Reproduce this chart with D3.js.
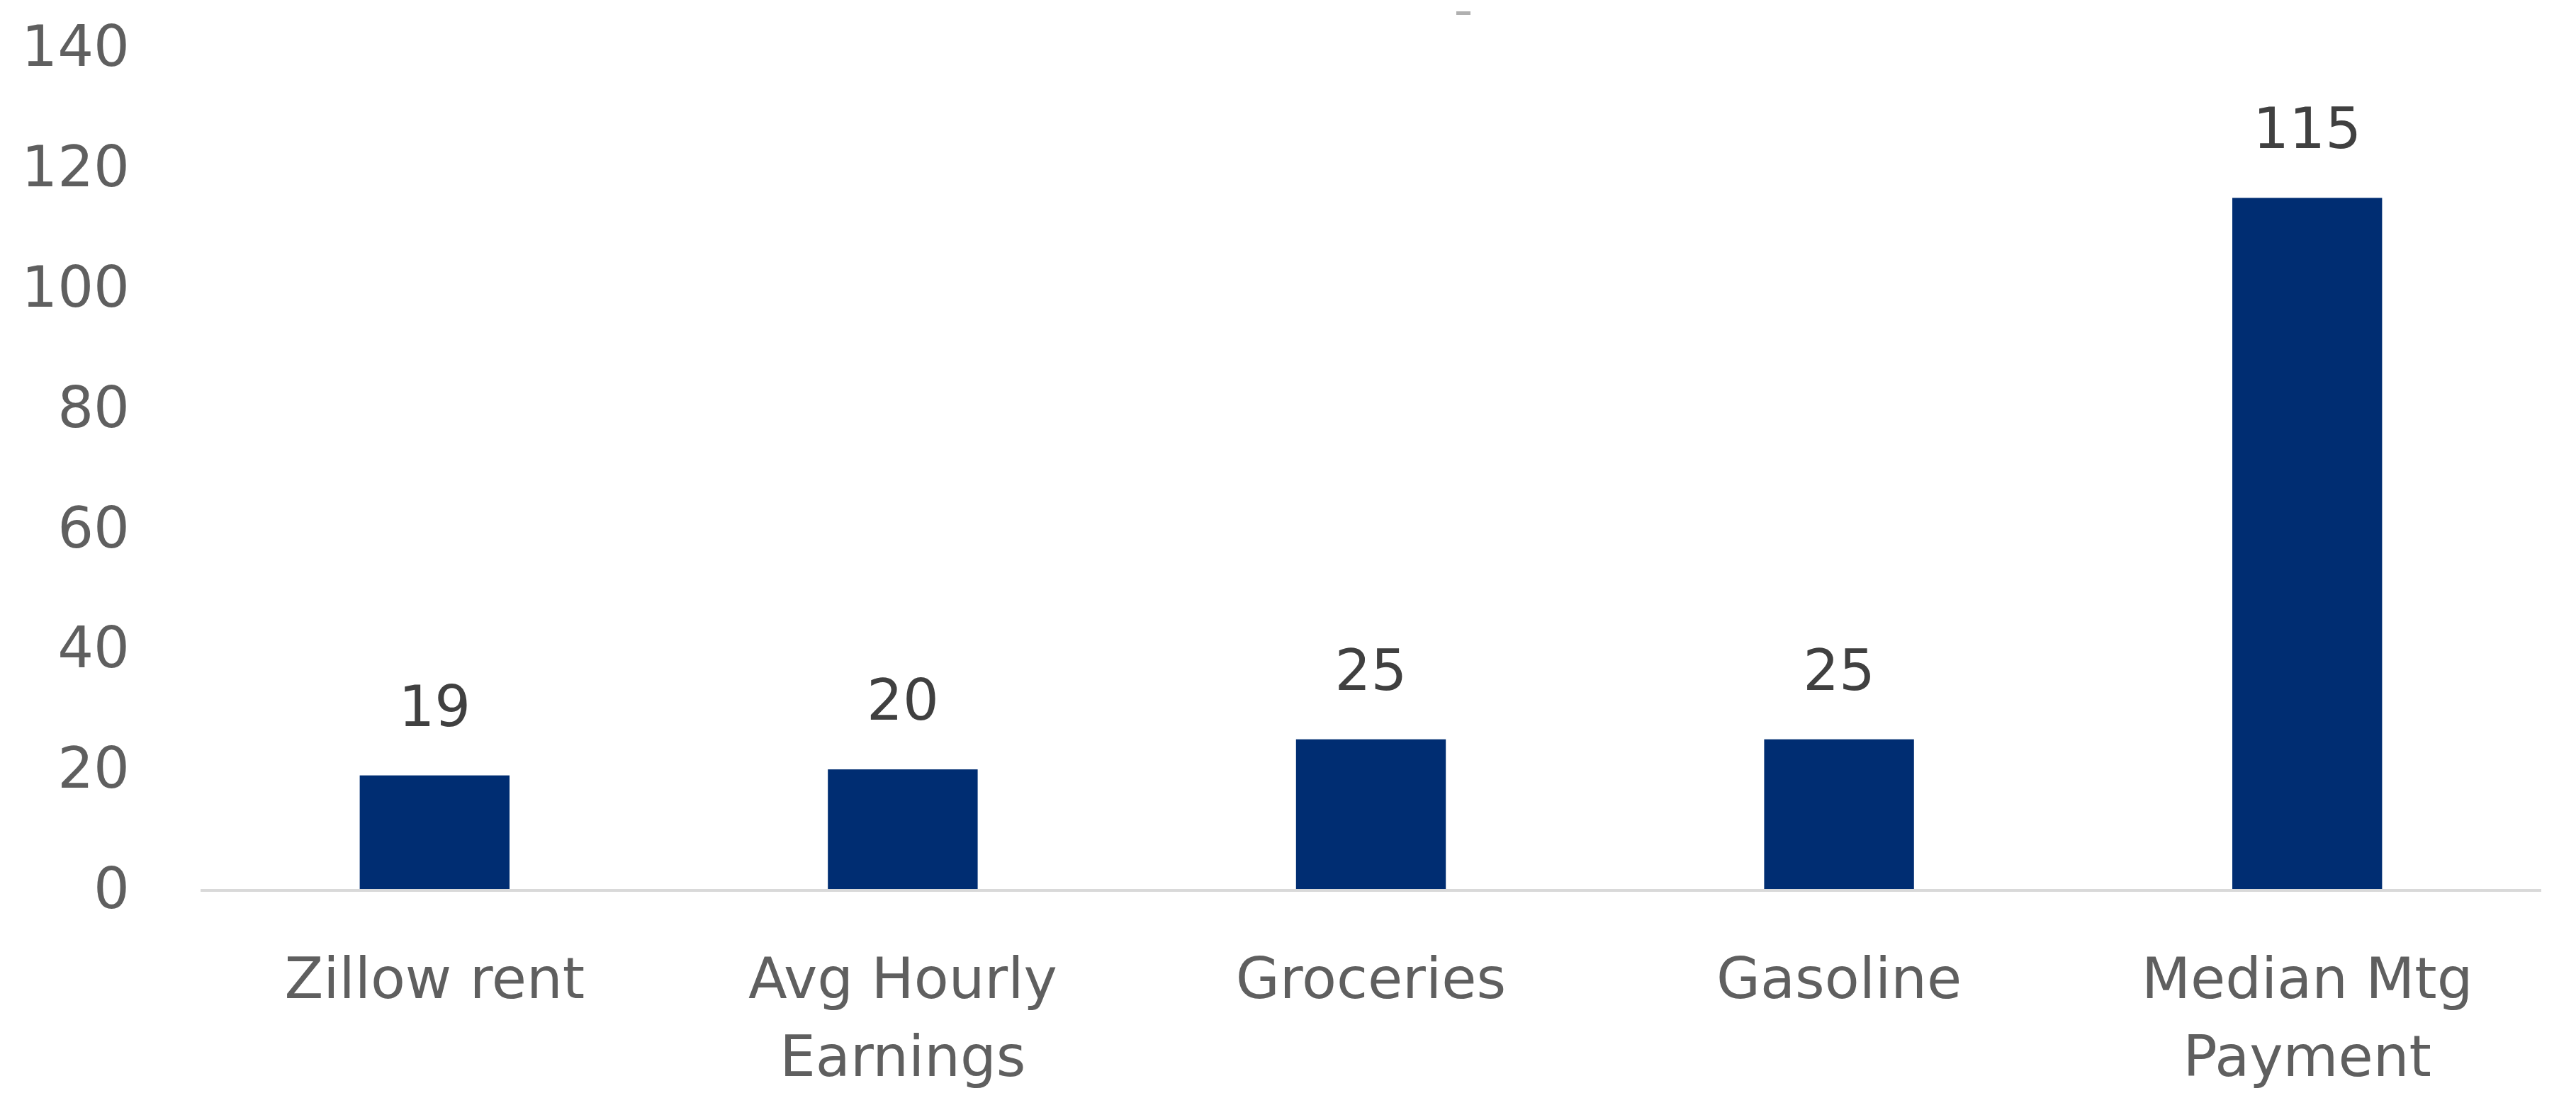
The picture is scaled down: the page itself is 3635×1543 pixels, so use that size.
<!DOCTYPE html>
<html>
<head>
<meta charset="utf-8">
<script src="https://cdn.jsdelivr.net/npm/d3@7"></script>
<style>
  html, body { margin: 0; padding: 0; background: #ffffff; }
  svg { display: block; }
  text { font-family: "DejaVu Sans", sans-serif; }
</style>
</head>
<body>
<svg id="chart"></svg>
<script>
// Cumulative change by item (percent)
const categories = ["Zillow rent", "Avg Hourly Earnings", "Groceries", "Gasoline", "Median Mtg Payment"];
const values = [19, 20, 25, 25, 115];
const yTicks = [0, 20, 40, 60, 80, 100, 120, 140];

const width = 3635, height = 1543;
const margin = { left: 283, right: 49, top: 67, bottom: 287 };
const fontSize = 80;

const svg = d3.select("#chart")
  .attr("width", width)
  .attr("height", height)
  .attr("viewBox", `0 0 ${width} ${height}`);

const x = d3.scaleBand()
  .domain(categories)
  .range([margin.left, width - margin.right])
  .paddingInner(0.68)
  .paddingOuter(0.34);

const y = d3.scaleLinear()
  .domain([0, 140])
  .range([height - margin.bottom, margin.top]);

// y axis: labels only
const yAxis = svg.append("g")
  .attr("transform", `translate(${margin.left},0)`)
  .call(d3.axisLeft(y).tickValues(yTicks).tickSize(0).tickPadding(100));
yAxis.select(".domain").remove();
yAxis.selectAll("text")
  .attr("font-family", "DejaVu Sans, sans-serif")
  .attr("font-size", fontSize)
  .attr("fill", "#5f5f5f");

// bars
svg.append("g")
  .selectAll("rect")
  .data(categories)
  .join("rect")
  .attr("x", d => x(d))
  .attr("width", x.bandwidth())
  .attr("y", (d, i) => y(values[i]))
  .attr("height", (d, i) => y(0) - y(values[i]))
  .attr("fill", "#002D72");

// baseline
svg.append("line")
  .attr("x1", margin.left)
  .attr("x2", width - margin.right)
  .attr("y1", y(0) + 1)
  .attr("y2", y(0) + 1)
  .attr("stroke", "#d9d9d9")
  .attr("stroke-width", 4);

// value labels
svg.append("g")
  .selectAll("text")
  .data(categories)
  .join("text")
  .attr("x", d => x(d) + x.bandwidth() / 2)
  .attr("y", (d, i) => y(values[i]) - 70)
  .attr("text-anchor", "middle")
  .attr("font-size", fontSize)
  .attr("fill", "#404040")
  .text((d, i) => values[i]);

// category labels, wrapped to the band step
const maxLine = x.step() * 0.9;
const measure = svg.append("text").attr("font-size", fontSize).attr("visibility", "hidden");
function wrap(label) {
  const words = label.split(" ");
  const lines = [];
  let cur = "";
  words.forEach(w => {
    const test = cur ? cur + " " + w : w;
    measure.text(test);
    if (measure.node().getComputedTextLength() > maxLine && cur) {
      lines.push(cur);
      cur = w;
    } else {
      cur = test;
    }
  });
  if (cur) lines.push(cur);
  return lines;
}

const catG = svg.append("g");
categories.forEach(c => {
  const t = catG.append("text")
    .attr("x", x(c) + x.bandwidth() / 2)
    .attr("y", y(0) + 153)
    .attr("text-anchor", "middle")
    .attr("font-size", fontSize)
    .attr("fill", "#5f5f5f");
  wrap(c).forEach((line, i) => {
    t.append("tspan")
      .attr("x", x(c) + x.bandwidth() / 2)
      .attr("dy", i === 0 ? 0 : 110)
      .text(line);
  });
});
measure.remove();

// small stroke left at the top edge
svg.append("rect")
  .attr("x", 2055)
  .attr("y", 16)
  .attr("width", 20)
  .attr("height", 5)
  .attr("fill", "#b0b0b0");
</script>
</body>
</html>
